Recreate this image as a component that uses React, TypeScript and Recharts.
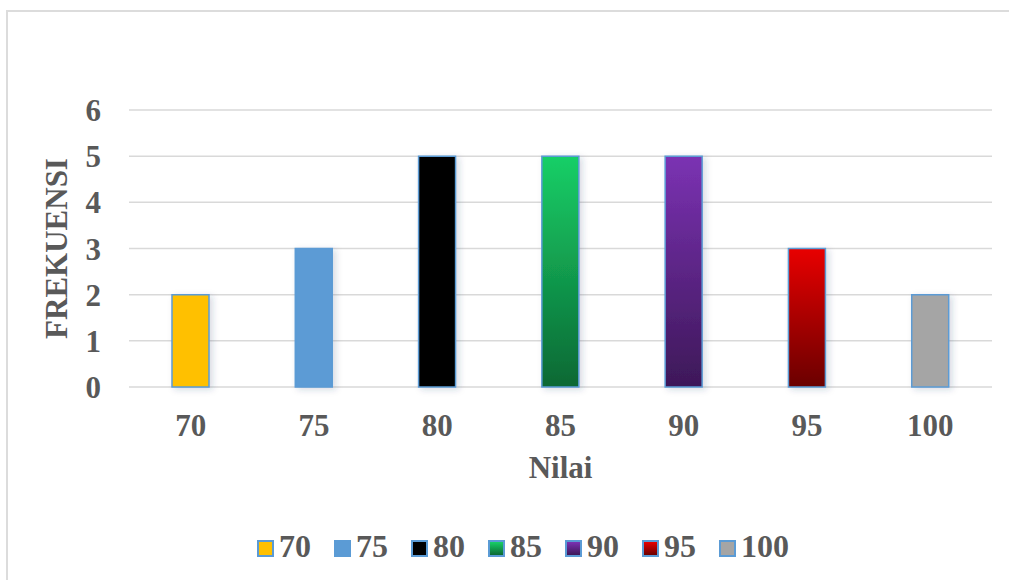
import { BarChart, Bar, XAxis, YAxis, CartesianGrid, Cell } from 'recharts';

const categories = ['70', '75', '80', '85', '90', '95', '100'];
const frequencies = [2, 3, 5, 5, 5, 3, 2];
const yTicks = [0, 1, 2, 3, 4, 5, 6];

const FONT = '"Liberation Serif", "Times New Roman", serif';
const TEXT = '#595959';
const GRID = '#d9d9d9';
const EDGE = '#5b9bd5';

// [top, bottom] of each bar's vertical gradient
const BAR_FILLS: Record<string, [string, string]> = {
    '70': ['#ffc000', '#ffc000'],
    '75': ['#5b9bd5', '#5b9bd5'],
    '80': ['#000000', '#000000'],
    '85': ['#18cf67', '#0b6834'],
    '90': ['#7b32b3', '#3d1858'],
    '95': ['#e80000', '#6a0000'],
    '100': ['#a5a5a5', '#a5a5a5'],
};

const chartData = categories.map((c, i) => ({ name: c, value: frequencies[i] }));

const YTitle = (props: any) => {
    const { viewBox } = props;
    const x = viewBox.x + 67;
    const y = viewBox.y + viewBox.height / 2;
    return (
        <text
            x={x}
            y={y}
            transform={`rotate(-90 ${x} ${y})`}
            textAnchor="middle"
            fill={TEXT}
            fontFamily={FONT}
            fontWeight="bold"
            fontSize={31}
        >
            FREKUENSI
        </text>
    );
};

export default function App() {
    const tick = { fill: TEXT, fontFamily: FONT, fontWeight: 'bold', fontSize: 31 } as any;

    return (
        <div
            style={{
                position: 'fixed',
                left: 0,
                top: 0,
                width: 1009,
                height: 580,
                overflow: 'hidden',
                background: '#fff',
                fontFamily: FONT,
            }}
        >
            <div
                style={{
                    position: 'absolute',
                    left: 6,
                    top: 10,
                    width: 1060,
                    height: 640,
                    border: '2px solid #dcdcdc',
                }}
            />
            <div style={{ position: 'absolute', left: 0, top: 0 }}>
                <BarChart
                    width={1009}
                    height={580}
                    data={chartData}
                    margin={{ top: 110, right: 17, left: 0, bottom: 93 }}
                >
                    <defs>
                        {categories.map((c) => (
                            <linearGradient key={c} id={`fill-${c}`} x1="0" y1="0" x2="0" y2="1">
                                <stop offset="0%" stopColor={BAR_FILLS[c][0]} />
                                <stop offset="100%" stopColor={BAR_FILLS[c][1]} />
                            </linearGradient>
                        ))}
                        <filter id="barShadow" x="-40%" y="-10%" width="180%" height="130%">
                            <feDropShadow dx="3" dy="2" stdDeviation="3" floodColor="#1f3864" floodOpacity="0.18" />
                        </filter>
                    </defs>
                    <CartesianGrid vertical={false} stroke={GRID} strokeWidth={1.5} />
                    <XAxis
                        dataKey="name"
                        height={100}
                        axisLine={false}
                        tickLine={false}
                        tickSize={0}
                        tickMargin={27}
                        tick={tick}
                        label={{
                            value: 'Nilai',
                            position: 'insideBottom',
                            offset: 9,
                            fill: TEXT,
                            fontFamily: FONT,
                            fontWeight: 'bold',
                            fontSize: 31,
                        }}
                    />
                    <YAxis
                        width={129}
                        domain={[0, 6]}
                        ticks={yTicks}
                        axisLine={false}
                        tickLine={false}
                        tickSize={0}
                        tickMargin={28}
                        tick={tick}
                        label={<YTitle />}
                    />
                    <Bar dataKey="value" barSize={37} stroke={EDGE} strokeWidth={1.5} isAnimationActive={false}>
                        {chartData.map((d) => (
                            <Cell key={d.name} fill={`url(#fill-${d.name})`} filter="url(#barShadow)" />
                        ))}
                    </Bar>
                </BarChart>
            </div>
            <div
                style={{
                    position: 'absolute',
                    left: 257,
                    top: 530,
                    display: 'flex',
                    alignItems: 'center',
                    color: TEXT,
                    fontWeight: 'bold',
                    fontSize: 32,
                    lineHeight: 1,
                }}
            >
                {categories.map((c) => (
                    <div key={c} style={{ display: 'flex', alignItems: 'center', marginRight: 23 }}>
                        <span
                            style={{
                                display: 'inline-block',
                                width: 13,
                                height: 13,
                                border: `2px solid ${EDGE}`,
                                background: `linear-gradient(${BAR_FILLS[c][0]}, ${BAR_FILLS[c][1]})`,
                                marginRight: 5,
                                marginTop: 4,
                            }}
                        />
                        <span>{c}</span>
                    </div>
                ))}
            </div>
        </div>
    );
}
